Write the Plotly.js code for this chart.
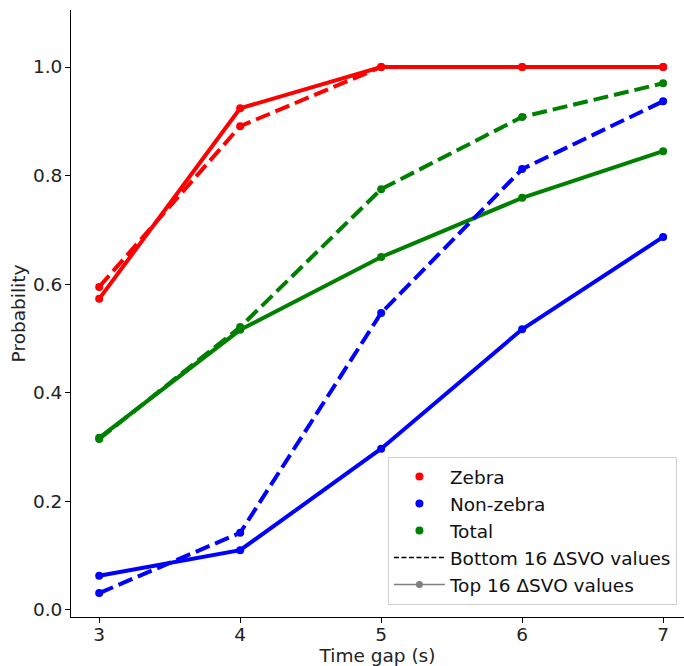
<!DOCTYPE html>
<html>
<head>
<meta charset="utf-8">
<script src="https://cdn.plot.ly/plotly-3.0.1.min.js"></script>
<style>html,body{margin:0;padding:0;background:#fff;}#chart{width:684px;height:666px;}</style>
</head>
<body>
<div id="chart"></div>
<script>
const timeGaps = [3, 4, 5, 6, 7];
const zebraTop = [0.573, 0.924, 1.0, 1.0, 1.0];
const zebraBottom = [0.595, 0.891, 1.0, 1.0, 1.0];
const nonZebraTop = [0.063, 0.110, 0.297, 0.517, 0.687];
const nonZebraBottom = [0.031, 0.142, 0.547, 0.812, 0.937];
const totalTop = [0.317, 0.516, 0.650, 0.759, 0.845];
const totalBottom = [0.315, 0.521, 0.775, 0.908, 0.970];
const yTicks = [0.0, 0.2, 0.4, 0.6, 0.8, 1.0];
const xTicks = [3, 4, 5, 6, 7];

function series(y, color, dashed) {
  return {
    x: timeGaps, y: y, mode: 'lines+markers', showlegend: false,
    line: {color: color, width: 4, dash: dashed ? '15px,6px' : 'solid'},
    marker: {color: color, size: 8}, hoverinfo: 'x+y'
  };
}
function legendMarker(name, color, g) {
  return {x: [null], y: [null], mode: 'markers', name: name, legendgroup: g,
    marker: {color: color, size: 8}};
}
const traces = [
  series(zebraBottom, 'red', true),
  series(zebraTop, 'red', false),
  series(totalBottom, 'green', true),
  series(totalTop, 'green', false),
  series(nonZebraBottom, 'blue', true),
  series(nonZebraTop, 'blue', false),
  legendMarker('Zebra', 'red', 'a'),
  legendMarker('Non-zebra', 'blue', 'b'),
  legendMarker('Total', 'green', 'c'),
  {x: [null], y: [null], mode: 'lines', name: 'Bottom 16 ΔSVO values', legendgroup: 'd',
    line: {color: 'black', width: 1.5, dash: '5px,2.5px'}},
  {x: [null], y: [null], mode: 'lines+markers', name: 'Top 16 ΔSVO values', legendgroup: 'e',
    line: {color: 'gray', width: 1.5}, marker: {color: 'gray', size: 7}}
];
const FS = 18.5;
const layout = {
  width: 684, height: 666,
  margin: {l: 71, r: 0, t: 10, b: 49},
  paper_bgcolor: '#fff', plot_bgcolor: '#fff',
  font: {family: 'DejaVu Sans', size: FS, color: '#000'},
  showlegend: true,
  xaxis: {
    range: [2.8, 7.148], tickvals: xTicks, ticktext: xTicks.map(String),
    showgrid: false, zeroline: false, showline: true, linecolor: '#000', linewidth: 1,
    ticks: 'outside', ticklen: 5, tickcolor: '#000', tickwidth: 1,
    ticklabelstandoff: -4,
    tickfont: {family: 'DejaVu Sans', size: FS, color: '#222'},
    title: {text: 'Time gap (s)', font: {family: 'DejaVu Sans', size: FS, color: '#222'}, standoff: 0}
  },
  yaxis: {
    range: [-0.013, 1.105], tickvals: yTicks, ticktext: yTicks.map(v => v.toFixed(1)),
    showgrid: false, zeroline: false, showline: true, linecolor: '#000', linewidth: 1,
    ticks: 'outside', ticklen: 5, tickcolor: '#000', tickwidth: 1,
    ticklabelstandoff: -1,
    tickfont: {family: 'DejaVu Sans', size: FS, color: '#222'},
    title: {text: 'Probability', font: {family: 'DejaVu Sans', size: FS, color: '#222'}, standoff: 2}
  },
  legend: {
    x: 0.517, y: 0.02, xanchor: 'left', yanchor: 'bottom',
    bgcolor: 'rgba(255,255,255,0.85)', bordercolor: '#d0d0d0', borderwidth: 1,
    font: {family: 'DejaVu Sans', size: FS, color: '#111'},
    traceorder: 'grouped', tracegroupgap: 0, itemwidth: 51
  }
};
Plotly.newPlot('chart', traces, layout, {displayModeBar: false, staticPlot: true});
</script>
</body>
</html>
